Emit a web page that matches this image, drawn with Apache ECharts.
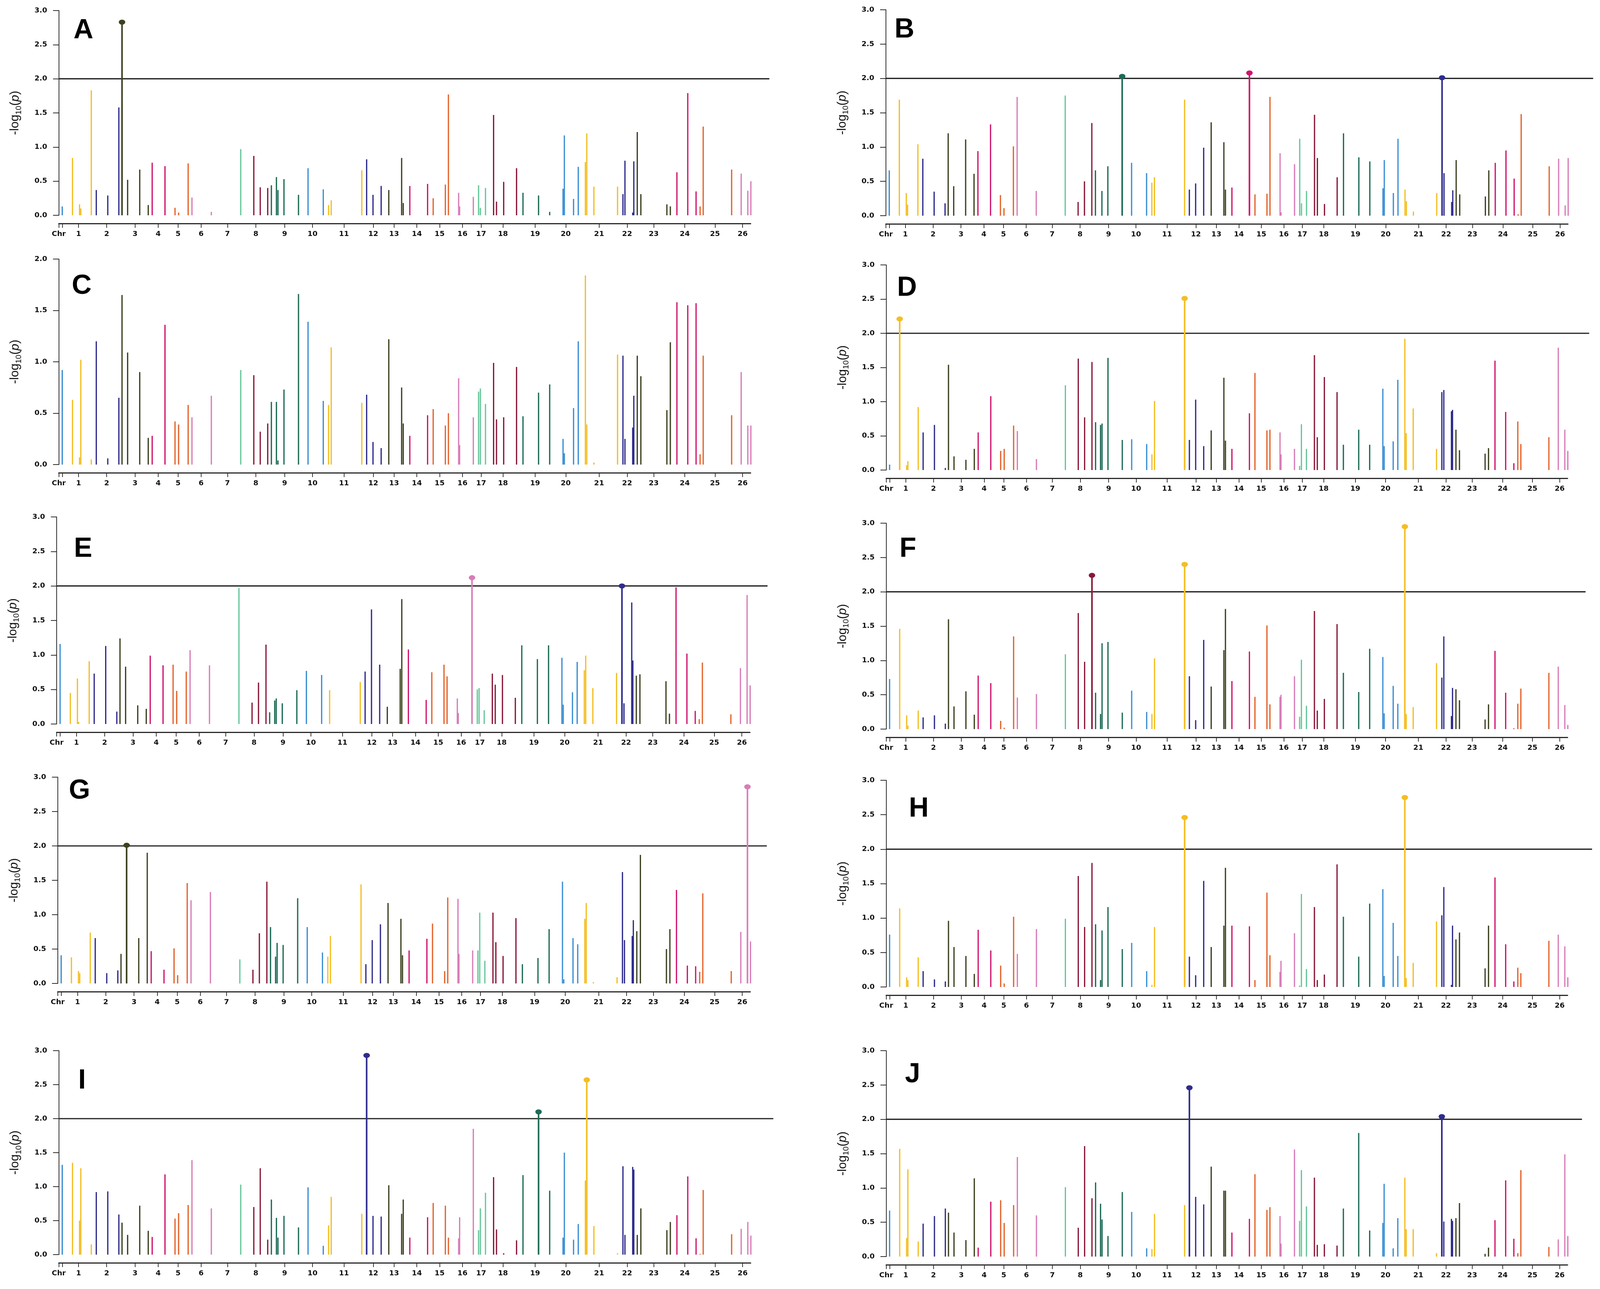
<!DOCTYPE html>
<html>
<head>
<meta charset="utf-8">
<script src="https://cdn.jsdelivr.net/npm/echarts@6/dist/echarts.min.js"></script>
<style>
html,body{margin:0;padding:0;background:#fff;overflow:hidden;}
#chart{width:100vw;height:100vh;}
</style>
</head>
<body>
<div id="chart"></div>
<script>
// ---------------- DATA ----------------
const panelNames = ['A','B','C','D','E','F','G','H','I','J'];
const yMaxes = [3,3,2,3,3,3,3,3,3,3];
const threshold = 2;
const hasThreshold = [true,true,false,true,true,true,true,true,true,true];

// chromosome tick positions (genome units, 0..1000 along the axis)
const chrTickPos = [0,5,28.6,69.3,110.2,143.7,172.5,205.8,243.8,284.8,326.5,366.8,412.2,454.6,484.6,517.6,550.5,583.5,610.5,642,688.5,732.8,781,821.5,860,904.8,948.5,988.5];
const chrLabelPos = [0,28.6,69.3,110.2,143.7,172.5,205.8,243.8,284.8,326.5,366.8,412.2,454.6,484.6,517.6,550.5,583.5,610.5,642,688.5,732.8,781,821.5,860,904.8,948.5,988.5];
const chrLabels = ['Chr','1','2','3','4','5','6','7','8','9','10','11','12','13','14','15','16','17','18','19','20','21','22','23','24','25','26'];

// marker genome positions and chromosome of each marker
const markerPos = [
  5,19.8,30,31.8,47,54.2,70.8,86.8,91.4,99.5,
  117,129.3,135,153.5,168,173.2,187,192.5,220.5,263,
  281.9,291.2,302,307.3,314.6,316.8,325.5,346.5,360.3,382.3,
  390,393.8,438,445,454.2,466,477,495.6,497.9,507.4,
  533.1,541.2,558.8,563.2,578,579.4,599.2,606.8,609.4,616.8,
  628.5,632.7,643.1,661.7,671,693.5,709.6,728.9,730.8,744.1,
  750.9,761.2,763.2,773.5,807.7,815.5,818.4,829.6,831.2,836.2,
  841.4,879,884,893.5,909.2,921.2,927,931.5,972.6,986.4,
  996,1000.4
];
const markerChr = [
  0,1,1,1,1,2,2,2,3,3,
  3,3,4,4,5,5,5,6,6,7,
  8,8,8,9,9,9,9,9,10,10,
  11,11,11,12,12,12,13,13,13,14,
  14,15,15,15,16,16,16,17,17,17,
  18,18,18,18,19,19,19,20,20,20,
  20,21,21,21,21,22,22,22,22,23,
  23,23,23,24,24,24,25,25,25,26,
  26,26
];

// -log10(p) per marker, one array per panel
const valuesA = [
  0.13,0.84,0.16,0.10,1.83,0.37,0.29,1.58,2.83,0.52,
  0.67,0.15,0.77,0.72,0.11,0.04,0.76,0.26,0.05,0.97,
  0.87,0.41,0.40,0.44,0.56,0.37,0.53,0.30,0.69,0.38,
  0.15,0.22,0.66,0.82,0.30,0.43,0.37,0.84,0.18,0.43,
  0.46,0.25,0.45,1.77,0.33,0.13,0.27,0.44,0.11,0.40,
  1.47,0.20,0.49,0.69,0.33,0.29,0.05,0.39,1.17,0.24,
  0.71,0.78,1.20,0.42,0.42,0.31,0.80,0.04,0.79,1.22,
  0.31,0.16,0.13,0.63,1.79,0.35,0.13,1.30,0.67,0.61,
  0.36,0.50];
const valuesB = [
  0.66,1.69,0.33,0.16,1.04,0.83,0.35,0.18,1.20,0.43,
  1.11,0.61,0.94,1.33,0.30,0.11,1.01,1.73,0.36,1.75,
  0.20,0.50,1.35,0.66,0,0.36,0.72,2.03,0.77,0.62,
  0.48,0.56,1.69,0.38,0.47,0.99,1.36,1.07,0.38,0.41,
  2.08,0.31,0.32,1.73,0.91,0.05,0.75,1.12,0.18,0.36,
  1.47,0.84,0.17,0.56,1.20,0.85,0.79,0.40,0.81,0.33,
  1.12,0.38,0.21,0.06,0.33,2.01,0.62,0.20,0.37,0.81,
  0.31,0.28,0.66,0.77,0.95,0.54,0.02,1.48,0.72,0.83,
  0.15,0.84];
const valuesC = [
  0.92,0.63,0.07,1.02,0.05,1.20,0.06,0.65,1.65,1.09,
  0.90,0.26,0.28,1.36,0.42,0.39,0.58,0.46,0.67,0.92,
  0.87,0.32,0.40,0.61,0.61,0.04,0.73,1.66,1.39,0.62,
  0.58,1.14,0.60,0.68,0.22,0.16,1.22,0.75,0.40,0.28,
  0.48,0.54,0.38,0.50,0.84,0.19,0.46,0.71,0.74,0.59,
  0.99,0.44,0.46,0.95,0.47,0.70,0.78,0.25,0.11,0.55,
  1.20,1.84,0.39,0.02,1.07,1.06,0.25,0.36,0.67,1.06,
  0.86,0.53,1.19,1.58,1.55,1.57,0.10,1.06,0.48,0.90,
  0.38,0.38];
const valuesD = [
  0.08,2.21,0.07,0.13,0.92,0.55,0.66,0.03,1.54,0.20,
  0.15,0.31,0.55,1.08,0.28,0.31,0.65,0.57,0.16,1.24,
  1.63,0.77,1.58,0.70,0.66,0.68,1.64,0.44,0.45,0.38,
  0.23,1.01,2.51,0.44,1.03,0.35,0.58,1.35,0.43,0.31,
  0.83,1.42,0.58,0.59,0.55,0.23,0.31,0.06,0.67,0.31,
  1.68,0.48,1.36,1.14,0.37,0.59,0.37,1.19,0.35,0.42,
  1.32,1.92,0.54,0.90,0.31,1.14,1.17,0.86,0.88,0.59,
  0.29,0.24,0.32,1.60,0.85,0.10,0.71,0.38,0.48,1.79,
  0.59,0.28];
const valuesE = [
  1.16,0.45,0.66,0.03,0.91,0.73,1.13,0.18,1.24,0.83,
  0.27,0.22,0.99,0.85,0.86,0.48,0.76,1.07,0.85,1.97,
  0.31,0.60,1.15,0.17,0.34,0.37,0.30,0.49,0.77,0.71,
  0,0.49,0.61,0.76,1.66,0.86,0.25,0.80,1.81,1.08,
  0.35,0.75,0.86,0.69,0.37,0.16,2.12,0.50,0.52,0.20,
  0.73,0.57,0.71,0.38,1.14,0.94,1.14,0.96,0.28,0.46,
  0.90,0.78,0.99,0.52,0.74,2.00,0.30,1.76,0.92,0.70,
  0.72,0.62,0.15,1.98,1.02,0.19,0.07,0.89,0.14,0.81,
  1.87,0.56];
const valuesF = [
  0.73,1.46,0.20,0.05,0.27,0.17,0.20,0.08,1.60,0.33,
  0.55,0.21,0.78,0.67,0.12,0.02,1.35,0.46,0.51,1.09,
  1.69,0.98,2.24,0.53,0.22,1.25,1.27,0.24,0.56,0.25,
  0.22,1.03,2.40,0.77,0.13,1.30,0.62,1.15,1.75,0.70,
  1.13,0.47,1.51,0.36,0.47,0.50,0.77,0.18,1.01,0.34,
  1.72,0.27,0.44,1.53,0.82,0.54,1.17,1.05,0.23,0.63,
  0.37,2.95,0.22,0.32,0.96,0.75,1.35,0.19,0.60,0.58,
  0.42,0.14,0.36,1.14,0.53,0.01,0.37,0.59,0.82,0.91,
  0.35,0.06];
const valuesG = [
  0.41,0.38,0.18,0.15,0.74,0.66,0.15,0.19,0.43,2.01,
  0.66,1.90,0.47,0.20,0.51,0.12,1.46,1.21,1.33,0.35,
  0.20,0.73,1.48,0.82,0.39,0.59,0.56,1.24,0.82,0.45,
  0.39,0.69,1.44,0.28,0.63,0.86,1.17,0.94,0.41,0.48,
  0.65,0.87,0.18,1.25,1.23,0.43,0.48,0.48,1.03,0.33,
  1.03,0.60,0.40,0.95,0.28,0.37,0.79,1.48,0.06,0.66,
  0.57,0.94,1.17,0.02,0.09,1.62,0.63,0.69,0.92,0.76,
  1.87,0.50,0.79,1.36,0.26,0.25,0.17,1.31,0.18,0.75,
  2.86,0.61];
const valuesH = [
  0.76,1.14,0.14,0.10,0.43,0.23,0.11,0.08,0.96,0.58,
  0.45,0.19,0.83,0.53,0.31,0.05,1.02,0.48,0.84,0.99,
  1.61,0.87,1.80,0.91,0.10,0.82,1.16,0.55,0.64,0.23,
  0.03,0.87,2.46,0.44,0.17,1.54,0.58,0.89,1.73,0.89,
  0.88,0.10,1.37,0.46,0.22,0.38,0.78,0.02,1.35,0.26,
  1.16,0.10,0.18,1.78,1.02,0.44,1.21,1.42,0.16,0.93,
  0.45,2.75,0.13,0.35,0.95,1.04,1.45,0.03,0.89,0.69,
  0.79,0.27,0.89,1.59,0.62,0.08,0.28,0.20,0.67,0.76,
  0.59,0.14];
const valuesI = [
  1.32,1.35,0.50,1.27,0.15,0.92,0.93,0.59,0.47,0.29,
  0.72,0.35,0.26,1.18,0.53,0.61,0.73,1.39,0.68,1.03,
  0.70,1.27,0.22,0.81,0.54,0.25,0.57,0.40,0.99,0.13,
  0.43,0.85,0.60,2.93,0.57,0.56,1.02,0.60,0.81,0.25,
  0.55,0.76,0.72,0.25,0.24,0.55,1.85,0.36,0.68,0.91,
  1.14,0.37,0.02,0.21,1.17,2.10,0.94,0.25,1.50,0.22,
  0.45,1.09,2.57,0.42,0.02,1.30,0.29,1.29,1.25,0.29,
  0.68,0.36,0.48,0.58,1.15,0.24,0.01,0.95,0.30,0.38,
  0.48,0.28];
const valuesJ = [
  0.67,1.57,0.27,1.27,0.22,0.48,0.59,0.70,0.64,0.35,
  0.24,1.14,0.13,0.80,0.82,0.49,0.75,1.45,0.60,1.01,
  0.42,1.61,0.85,1.08,0.77,0.54,0.30,0.94,0.65,0.12,
  0.11,0.62,0.75,2.46,0.87,0.76,1.31,0.96,0.96,0.35,
  0.55,1.20,0.68,0.72,0.59,0.19,1.56,0.52,1.26,0.73,
  1.15,0.17,0.18,0.16,0.70,1.80,0.38,0.49,1.06,0.12,
  0.56,1.15,0.40,0.40,0.05,2.04,0.51,0.55,0.52,0.56,
  0.78,0.04,0.13,0.53,1.11,0.26,0.05,1.26,0.14,0.25,
  1.49,0.30];
const panelValues = [valuesA,valuesB,valuesC,valuesD,valuesE,valuesF,valuesG,valuesH,valuesI,valuesJ];

// ---------------- STYLE / LAYOUT (reference pixels, scaled to the window) ----------------
const palette = ['#3b8fd4','#f4be24','#2f2c8e','#3c4220','#d0146c','#e3632a','#d87db8','#66c79a','#8a1838','#1c6b56'];
const layouts = [
  {left:163, top:27,   zero:551,  unit:1.918, thrEnd:2133, lx:204,  ly:79},
  {left:2456,top:25,   zero:552,  unit:1.891, thrEnd:4417, lx:2480, ly:77},
  {left:163, top:663,  zero:1189, unit:1.918, thrEnd:2133, lx:199,  ly:733},
  {left:2457,top:678,  zero:1203, unit:1.889, thrEnd:4406, lx:2487, ly:738},
  {left:157, top:1323, zero:1853, unit:1.922, thrEnd:2128, lx:205,  ly:1406},
  {left:2457,top:1339, zero:1866, unit:1.889, thrEnd:4396, lx:2494, ly:1406},
  {left:160, top:1989, zero:2517, unit:1.920, thrEnd:2126, lx:191,  ly:2025},
  {left:2457,top:1997, zero:2526, unit:1.889, thrEnd:4414, lx:2520, ly:2071},
  {left:163, top:2689, zero:3211, unit:1.918, thrEnd:2144, lx:217,  ly:2767},
  {left:2457,top:2689, zero:3216, unit:1.889, thrEnd:4386, lx:2509, ly:2751}
];
const REF_W = 4436, REF_H = 3299;
const el = document.getElementById('chart');
const W = el.clientWidth || window.innerWidth, H = el.clientHeight || window.innerHeight;
const sx = W / REF_W, sy = H / REF_H, sf = Math.min(sx, sy);
const X = v => v * sx, Y = v => v * sy, F = v => v * sf;

const BAR_W = 3.5, PEAK_W = 4.4;
const axisColor = '#1e1e1e';
const tickFont = {fontFamily:'DejaVu Sans', fontWeight:'bold', fontSize:F(20), color:'#111'};

function chrLabelFor(v){
  for (let i=0;i<chrLabelPos.length;i++){ if (Math.abs(chrLabelPos[i]-v) < 1e-6) return chrLabels[i]; }
  return '';
}

const grids=[], xAxes=[], yAxes=[], series=[], graphics=[];
panelNames.forEach((name, p) => {
  const L = layouts[p];
  const vals = panelValues[p];
  const xMaxMain = (L.thrEnd - L.left) / L.unit;
  const gMain = grids.length;
  grids.push({left:X(L.left), top:Y(L.top), width:X(L.thrEnd - L.left), height:Y(L.zero - L.top)});
  xAxes.push({gridIndex:gMain, type:'value', min:0, max:xMaxMain, show:false});
  yAxes.push({
    gridIndex:gMain, type:'value', min:0, max:yMaxes[p], interval:0.5,
    axisLine:{show:true, lineStyle:{color:axisColor, width:F(2)}},
    axisTick:{show:true, length:F(16), lineStyle:{color:axisColor, width:F(2)}},
    axisLabel:Object.assign({margin:F(32), formatter:(v)=>v.toFixed(1)}, tickFont),
    splitLine:{show:false},
    name:'{a|-log}{s|10}{a|(}{i|p}{a|)}',
    nameLocation:'middle', nameRotate:90, nameGap:F(100),
    nameTextStyle:{rich:{
      a:{fontFamily:'Liberation Sans', fontSize:F(34), color:'#111', lineHeight:F(42)},
      s:{fontFamily:'Liberation Sans', fontSize:F(22), color:'#111', lineHeight:F(42), verticalAlign:'bottom'},
      i:{fontFamily:'Liberation Sans', fontSize:F(34), fontStyle:'italic', color:'#111', lineHeight:F(42)}
    }}
  });
  const gAxis = grids.length;
  grids.push({left:X(L.left), top:Y(L.zero + 20), width:X(1000 * L.unit), height:1});
  xAxes.push({
    gridIndex:gAxis, type:'value', min:0, max:1000, position:'bottom',
    axisLine:{show:true, onZero:false, lineStyle:{color:'#2a2a2a', width:F(3.5)}},
    axisTick:{show:true, inside:false, length:F(12), customValues:chrTickPos, lineStyle:{color:'#2a2a2a', width:F(2)}},
    axisLabel:Object.assign({margin:F(20), customValues:chrLabelPos, showMinLabel:true, showMaxLabel:true, formatter:chrLabelFor}, tickFont),
    splitLine:{show:false}
  });
  yAxes.push({gridIndex:gAxis, type:'value', min:0, max:1, show:false});

  const barData = vals.map((v,i)=>[markerPos[i], v, markerChr[i]]);
  const peakData = barData.filter(d => d[1] >= threshold);

  if (hasThreshold[p]) {
    series.push({
      type:'line', xAxisIndex:gMain, yAxisIndex:gMain, silent:true, symbol:'none', z:1,
      data:[[0, threshold],[xMaxMain, threshold]],
      lineStyle:{color:'#222', width:F(3.5)}
    });
  }
  series.push({
    type:'custom', xAxisIndex:gMain, yAxisIndex:gMain, z:2, silent:true,
    data:barData,
    renderItem:(params, api)=>{
      const x = api.value(0), y = api.value(1), c = api.value(2);
      if (!(y > 0)) return;
      const b = api.coord([x,0]); const t = api.coord([x,y]);
      const w = X(y >= threshold ? PEAK_W : BAR_W);
      return {type:'rect', shape:{x:b[0]-w/2, y:t[1], width:w, height:b[1]-t[1]}, style:{fill:palette[c % 10]}};
    }
  });
  series.push({
    type:'scatter', xAxisIndex:gMain, yAxisIndex:gMain, z:3, silent:true,
    symbol:'circle', symbolSize:[F(18),F(14)],
    data:peakData,
    itemStyle:{color:(pr)=>palette[pr.value[2] % 10], opacity:1}
  });

  graphics.push({
    type:'text', x:X(L.lx), y:Y(L.ly), z:10,
    style:{text:name, fontFamily:'Liberation Sans', fontWeight:'bold', fontSize:F(76), fill:'#000', textAlign:'left', textVerticalAlign:'middle'}
  });
});

const chart = echarts.init(el, null, {renderer:'canvas', width:W, height:H});
chart.setOption({
  animation:false,
  backgroundColor:'#ffffff',
  grid:grids, xAxis:xAxes, yAxis:yAxes, series:series,
  graphic:graphics
});
</script>
</body>
</html>
